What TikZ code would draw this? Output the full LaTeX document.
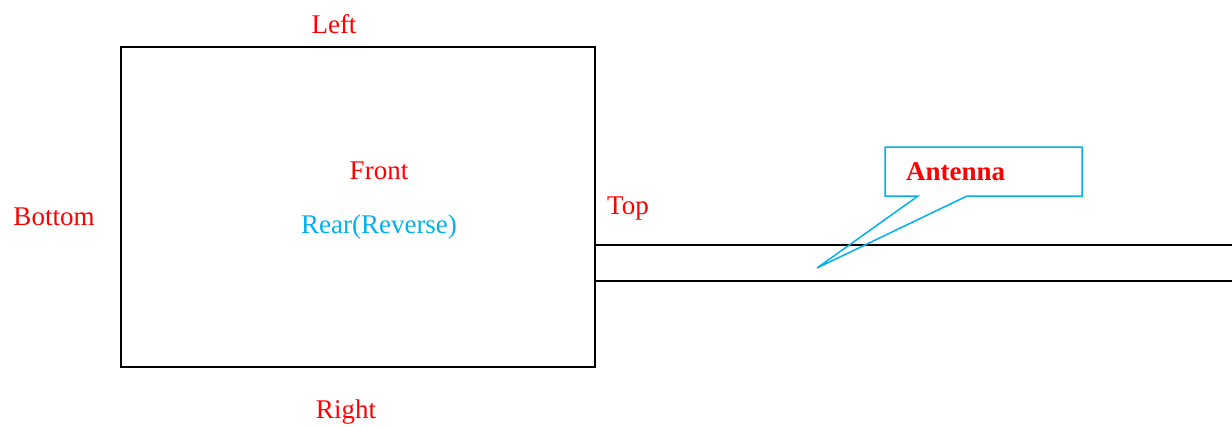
\documentclass[tikz,border=0pt]{standalone}
\usepackage{fontspec}
\setmainfont{Liberation Serif}
\definecolor{cyanish}{RGB}{0,176,240}
\definecolor{redtext}{RGB}{255,0,0}
\begin{document}
\begin{tikzpicture}[x=1pt,y=-1pt,
  lbl/.style={text=redtext,font=\fontsize{27}{30}\selectfont,inner sep=0pt},
  box/.style={draw=black,line width=1.8pt,minimum width=474pt,minimum height=320pt,inner sep=0pt},
  wire/.style={draw=black,line width=1.8pt},
  callout/.style={draw=cyanish,line width=1.5pt,line join=miter}]
\useasboundingbox (0,0) rectangle (1232,426);
\node[box] (body) at (358,207) {};
\node[lbl] (left) at (334,24) {Left};
\node[lbl] (front) at (379,171) {Front};
\node[lbl,text=cyanish] (rear) at (379,227) {Rear(Reverse)};
\node[lbl] (bottom) at (54,217) {Bottom};
\node[lbl,anchor=west] (top) at (607,209) {Top};
\node[lbl] (right) at (346,412) {Right};
\coordinate (w1a) at (595,245);
\coordinate (w1b) at (1232,245);
\coordinate (w2a) at (595,281);
\coordinate (w2b) at (1232,281);
\draw[wire] (w1a) -- (w1b);
\draw[wire] (w2a) -- (w2b);
\coordinate (tip) at (817,268);
\draw[callout] (885,147) -- (1082,147) -- (1082,196) -- (967,196) -- (tip) -- (918,196) -- (885,196) -- cycle;
\node[lbl,font=\fontsize{27}{30}\selectfont\bfseries,anchor=west] (ant) at (906,172) {Antenna};
\end{tikzpicture}
\end{document}
